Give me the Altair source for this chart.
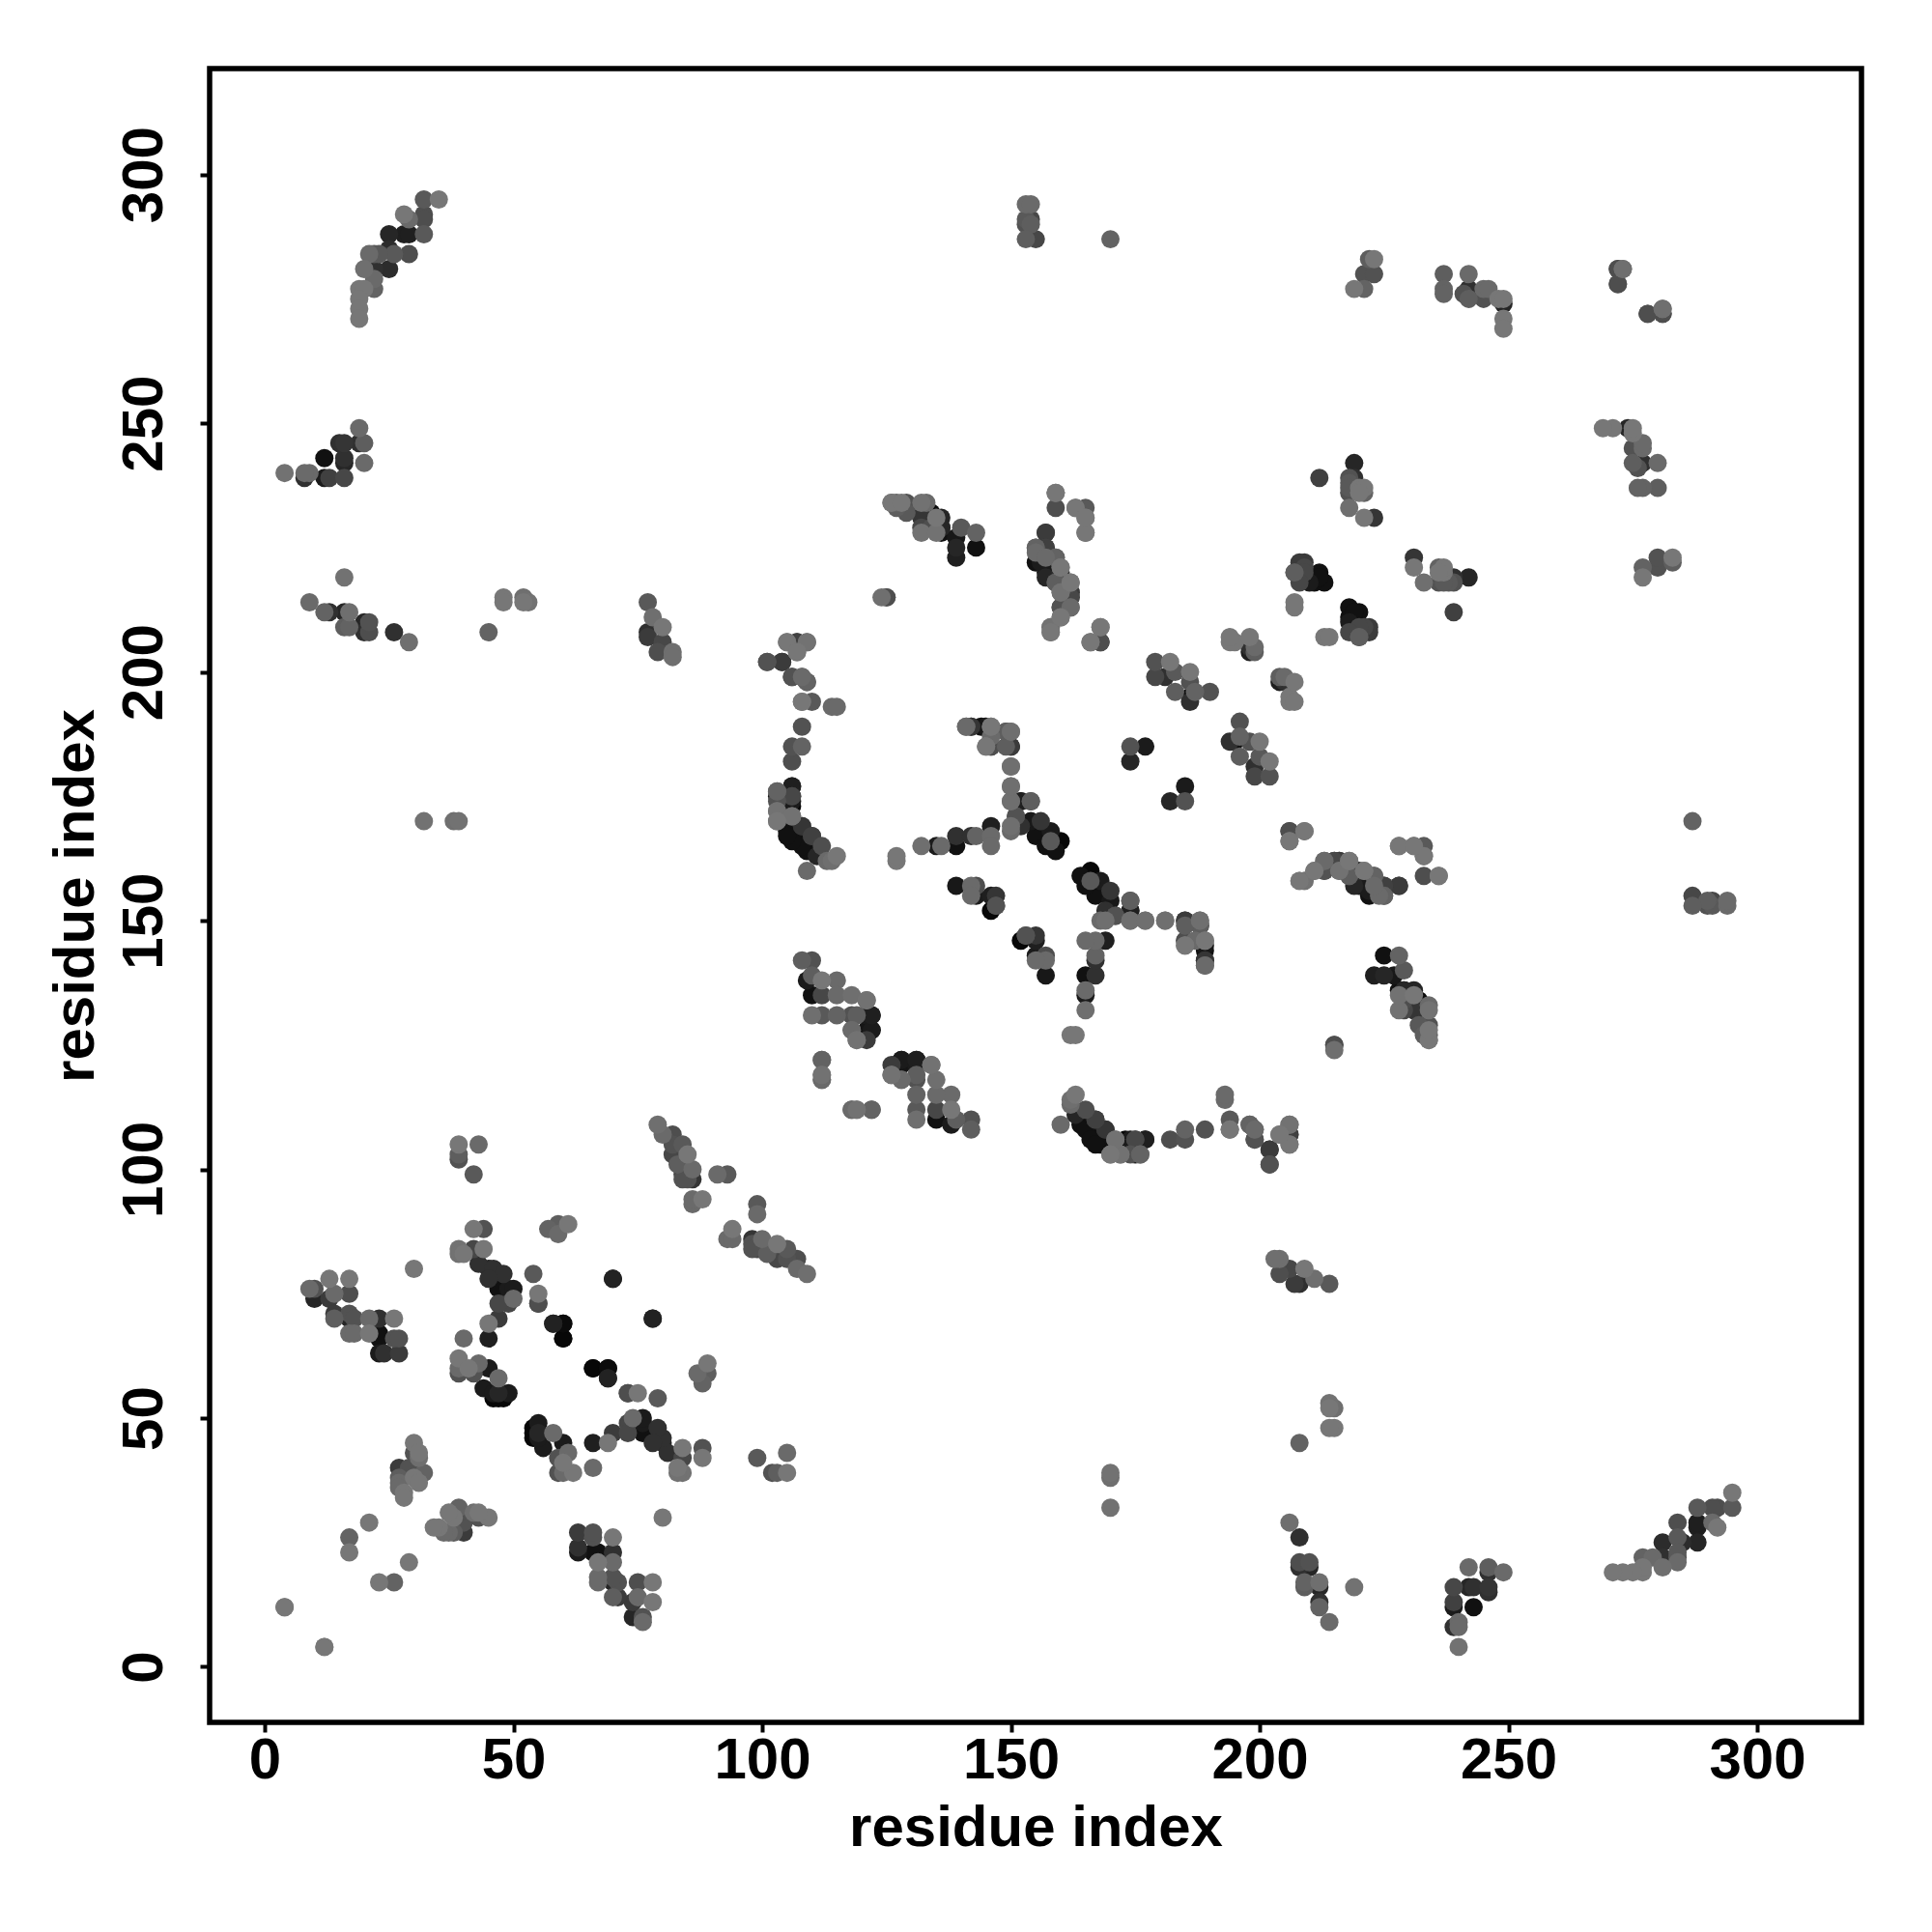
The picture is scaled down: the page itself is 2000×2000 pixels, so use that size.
import altair as alt
import pandas as pd

# Contacts as (residue i, residue j, shade score): the map is symmetric, each pair is drawn at (i,j) and (j,i)
c_low_a = [(9,76,.45),(10,76,.35),(10,74,.15),(13,78,.5),(17,78,.5),(14,75,.45),(13,74,.25),(17,75,.33),(14,71,.25),(14,70,.4),(17,71,.35),(17,70,.15),(18,70,.35),(21,70,.45),(23,70,.2),(26,70,.5),(17,67,.45),(18,67,.45),(21,67,.5),(23,67,.05),(23,66,.05),(26,66,.35),(27,66,.35),(23,63,.1),(24,63,.2),(27,63,.25),(30,80,.5)]
c_low_b = [(39,105,.5),(43,105,.45),(39,103,.4),(39,102,.35),(42,99,.38),(42,88,.5),(44,88,.35),(57,88,.42),(59,89,.4),(59,87,.45),(61,89,.5),(39,84,.48),(39,83,.48),(40,83,.5),(42,84,.3),(44,84,.5),(43,81,.2),(45,80,.15),(46,80,.2),(48,79,.2),(45,78,.2),(47,76,.05),(49,76,.1),(50,76,.1),(50,74,.45),(49,73,.3),(47,73,.3),(47,70,.25),(45,69,.5),(45,66,.12),(40,66,.45),(54,79,.38),(55,75,.5),(55,73,.3),(58,69,.13),(60,69,.03),(60,66,.01),(70,78,.13),(78,70,.13)]
c_low_c = [(39,62,.5),(39,60,.45),(39,59,.35),(41,60,.5),(43,61,.45),(42,59,.35),(45,60,.1),(47,58,.45),(44,56,.1),(46,55,.1),(47,55,.15),(49,55,.1),(46,54,.02),(48,54,.02),(47,54,.02),(73,55,.33),(66,60,.02),(69,60,.02),(69,58,.12)]
c_low_d = [(30,45,.5),(31,43,.5),(30,43,.35),(31,42,.47),(27,40,.25),(29,40,.35),(32,39,.42),(31,39,.35),(30,39,.3),(30,38,.5),(27,38,.4),(31,37,.5),(27,37,.45),(27,36,.45),(28,35,.5),(28,34,.5),(21,29,.5),(17,26,.42),(17,23,.5),(4,12,.5),(12,4,.5)]
c_diag_a = [(79,109,.47),(80,107,.45),(82,107,.33),(82,105,.35),(84,105,.38),(85,103,.5),(82,103,.3),(83,101,.4),(84,101,.35),(86,100,.45),(84,99,.3),(85,99,.2),(86,98,.22),(85,98,.35),(84,98,.35),(91,99,.45),(93,99,.38),(86,93,.45),(88,94,.5),(86,94,.45)]
c_top_a = [(35,295,.5),(32,295,.38),(28,292,.5),(29,291,.45),(32,292,.33),(32,291,.33),(32,288,.38),(25,288,.15),(28,288,.12),(29,288,.12),(25,285,.18),(26,284,.38),(29,284,.33),(21,284,.45),(22,284,.38),(23,284,.38),(20,281,.47),(22,281,.2),(25,281,.18),(19,277,.5),(20,277,.5),(22,277,.42),(22,279,.45),(19,275,.5),(19,273,.5),(19,271,.5)]
c_top_b = [(4,240,.48),(8,239,.2),(9,240,.45),(8,240,.45),(12,243,.05),(15,246,.2),(16,246,.22),(19,246,.2),(20,246,.4),(16,243,.2),(16,242,.15),(20,242,.45),(12,239,.1),(13,239,.27),(16,239,.3),(19,249,.45)]
c_top_c = [(16,219,.48),(9,214,.45),(12,212,.42),(13,212,.2),(16,212,.15),(17,212,.47),(16,209,.4),(17,209,.42),(20,210,.15),(21,210,.35),(20,208,.2),(21,208,.33),(26,208,.2),(29,206,.47),(45,208,.42),(48,215,.5),(48,214,.5),(52,215,.47),(53,214,.48),(52,214,.5),(77,214,.38),(78,211,.47),(80,209,.5),(77,208,.2),(77,207,.25),(79,204,.33),(80,206,.3),(82,204,.47),(82,203,.47),(32,170,.48),(38,170,.47),(39,170,.48),(170,287,.42),(153,294,.45),(154,294,.45),(153,291,.38),(154,291,.3),(153,290,.35),(154,290,.4),(153,287,.4),(155,287,.3)]
c_ur_a = [(223,283,.5),(222,283,.4),(221,280,.35),(223,280,.35),(219,277,.5),(221,277,.42),(237,280,.4),(237,277,.42),(237,276,.42),(242,280,.45),(242,277,.2),(241,276,.35),(242,275,.4),(245,277,.45),(245,275,.35),(246,277,.45),(248,275,.5),(249,274,.15),(249,271,.5),(249,269,.5),(249,275,.5),(272,281,.33),(273,281,.47),(272,278,.33),(278,272,.3),(281,272,.3),(281,273,.45)]
c_ur_b = [(219,242,.15),(212,239,.27),(218,239,.35),(219,239,.2),(218,238,.38),(218,237,.38),(218,236,.35),(219,238,.2),(220,237,.5),(221,237,.5),(220,236,.5),(221,236,.42),(218,233,.47),(221,231,.5),(223,231,.22)]
c_mid_a = [(159,236,.5),(159,233,.33),(163,233,.5),(165,233,.38),(165,231,.5),(165,228,.5),(157,228,.25),(155,225,.42),(157,225,.27),(155,224,.45),(155,222,.05),(159,223,.42),(160,221,.5),(157,220,.1),(157,219,.15),(159,218,.3),(162,218,.5),(160,216,.48),(162,216,.25),(162,215,.2),(160,213,.35),(162,213,.4),(160,211,.45),(158,209,.45),(158,208,.48),(168,209,.47),(166,206,.5),(168,206,.3)]
c_mid_b = [(126,234,.5),(127,234,.42),(128,234,.5),(129,234,.35),(129,232,.38),(132,234,.48),(132,232,.05),(132,231,.22),(132,228,.48),(135,231,.5),(136,231,.15),(136,229,.15),(135,228,.48),(136,228,.05),(140,229,.38),(139,227,.08),(143,228,.42),(143,225,.05),(139,225,.15),(139,223,.12),(124,215,.47),(125,215,.33),(136,229,.15),(132,232,.2),(133,234,.45),(134,232,.03),(134,229,.33),(132,229,.3),(127,233,.4),(126,234,.45)]
c_mid_c = [(179,202,.35),(179,199,.3),(182,202,.5),(183,200,.38),(181,199,.2),(186,200,.5),(183,196,.4),(186,198,.35),(187,196,.42),(190,196,.35),(186,194,.2),(186,195,.05),(194,206,.5),(195,206,.5),(198,207,.5),(199,205,.45),(198,204,.12),(199,204,.4),(194,207,.5),(198,205,.2),(207,213,.5),(207,214,.5),(209,221,.3),(207,220,.4),(209,220,.3),(212,220,.05),(211,218,.05),(213,218,.05),(212,219,.05),(208,218,.3),(219,212,.05),(210,218,.1),(209,222,.25),(208,222,.25),(207,220,.35),(174,182,.15),(174,185,.35),(177,185,.1)]
c_mid_d = [(208,158,.5),(209,158,.48),(211,160,.5),(213,162,.45),(213,160,.35),(215,162,.3),(216,162,.25),(218,162,.5),(216,160,.45),(218,159,.4),(220,160,.2),(221,160,.5),(220,158,.1),(223,159,.4),(222,156,.1),(223,157,.45),(225,157,.25),(225,155,.35),(228,157,.22),(206,168,.33),(206,166,.47),(209,168,.5),(228,165,.5),(231,165,.5),(233,163,.45),(236,159,.5),(215,125,.33)]
c_core_a = [(106,177,.12),(103,176,.4),(106,175,.25),(103,174,.35),(106,173,.02),(103,172,.48),(106,171,.48),(103,170,.5),(105,168,.05),(108,169,.22),(107,166,.05),(110,167,.25),(109,164,.05),(112,165,.33),(111,163,.15),(114,162,.47),(113,162,.45),(115,163,.5),(109,160,.45),(110,167,.27),(108,165,.05),(106,166,.05),(108,169,.2),(105,167,.05),(106,171,.47),(103,170,.45),(103,172,.47),(106,174,.1),(106,175,.3),(106,177,.12),(103,175,.1),(103,176,.42)]
c_core_b = [(105,206,.5),(107,206,.27),(109,206,.47),(107,204,.5),(101,202,.35),(104,202,.25),(106,199,.35),(108,199,.4),(109,198,.4),(108,194,.5),(110,194,.38),(114,193,.45),(115,193,.45),(108,189,.35),(106,185,.35),(108,185,.42),(106,182,.33),(108,194,.48),(109,198,.42),(108,199,.45),(106,199,.3),(104,202,.2),(101,202,.35),(107,204,.5),(109,206,.48),(107,206,.2),(105,206,.48)]
c_core_c = [(127,162,.5),(127,163,.5),(132,165,.47),(135,165,.1),(136,165,.45),(139,167,.2),(139,165,.05),(142,167,.2),(143,167,.42),(146,169,.12),(146,167,.45),(141,189,.45),(142,189,.2),(145,189,.08),(146,189,.48),(145,185,.5),(146,185,.33),(149,188,.4),(150,188,.47),(149,185,.4),(150,185,.25),(150,181,.47),(150,177,.47),(150,174,.47),(152,174,.1),(154,174,.4),(150,169,.47),(151,171,.35),(152,169,.2),(156,170,.22),(154,170,.08),(155,167,.05),(158,168,.1),(157,165,.05),(160,166,.02),(159,164,.05),(158,166,.38)]
c_core_d = [(139,157,.08),(142,157,.45),(143,157,.33),(143,155,.1),(142,155,.45),(147,155,.22),(146,155,.12),(147,153,.35),(146,152,.02),(165,146,.45),(147,153,.35),(168,150,.45),(171,151,.3),(174,154,.33),(174,152,.12),(174,150,.45),(177,150,.47),(181,150,.47),(185,150,.22),(188,150,.45),(188,149,.15),(185,146,.33),(185,145,.5),(189,146,.5),(187,146,.45),(189,144,.05),(189,142,.22),(189,141,.4)]
c_core_e = [(108,142,.4),(110,142,.35),(110,139,.4),(112,138,.5),(115,138,.45),(109,138,.1),(110,135,.05),(112,135,.3),(115,135,.45),(118,135,.47),(121,134,.48),(110,131,.47),(112,131,.38),(115,131,.42),(118,131,.35),(119,131,.4),(122,131,.1),(121,131,.1),(118,128,.45),(121,128,.07),(122,128,.07),(119,126,.48),(121,126,.25),(112,122,.42),(112,119,.47),(112,118,.42),(118,112,.45),(119,112,.48),(122,112,.42),(128,122,.1),(131,122,.12),(134,121,.47),(126,119,.47),(128,118,.45)]

clusters = [c_low_a, c_low_b, c_low_c, c_low_d, c_diag_a, c_top_a, c_top_b, c_top_c, c_ur_a, c_ur_b,
            c_mid_a, c_mid_b, c_mid_c, c_mid_d, c_core_a, c_core_b, c_core_c, c_core_d, c_core_e]

x_ticks = [0, 50, 100, 150, 200, 250, 300]
rows = []
for cl in clusters:
    for i, j, s in cl:
        rows.append({"x": i, "y": j, "s": s})
        rows.append({"x": j, "y": i, "s": s})
df = pd.DataFrame(rows).sort_values("s", kind="stable")

chart = (
    alt.Chart(df)
    .mark_circle(size=360, opacity=1)
    .encode(
        x=alt.X("x:Q", scale=alt.Scale(domain=[-11.07, 320.97], nice=False, zero=False),
                axis=alt.Axis(values=x_ticks, title="residue index", grid=False, domain=False,
                              labelFontSize=60, labelFont="Liberation Sans", labelFontWeight="bold", labelColor="black",
                              labelPadding=0, labelFlush=False,
                              titleFontSize=60, titleFont="Liberation Sans", titleFontWeight="bold", titleColor="black",
                              titlePadding=11, tickColor="black", tickWidth=4, tickSize=10)),
        y=alt.Y("y:Q", scale=alt.Scale(domain=[-11.17, 321.3], nice=False, zero=False),
                axis=alt.Axis(values=x_ticks, title="residue index", grid=False, domain=False,
                              labelFontSize=60, labelFont="Liberation Sans", labelFontWeight="bold", labelColor="black",
                              labelAngle=-90, labelAlign="center", labelBaseline="bottom", labelPadding=27, labelFlush=False,
                              titleFontSize=60, titleFont="Liberation Sans", titleFontWeight="bold", titleColor="black",
                              titlePadding=10, tickColor="black", tickWidth=4, tickSize=10)),
        color=alt.Color("s:Q", scale=alt.Scale(domain=[0, 1], range=["#000000", "#ffffff"]), legend=None),
        order=alt.Order("s:Q", sort="ascending"),
    )
    .properties(width=1710, height=1712,
                autosize=alt.AutoSizeParams(type="none"),
                padding={"left": 209, "top": 63, "right": 60, "bottom": 200})
    .configure_view(stroke="black", strokeWidth=5.5, fill="white")
)
chart.save("out.html", embed_options={"renderer": "svg", "actions": False})
